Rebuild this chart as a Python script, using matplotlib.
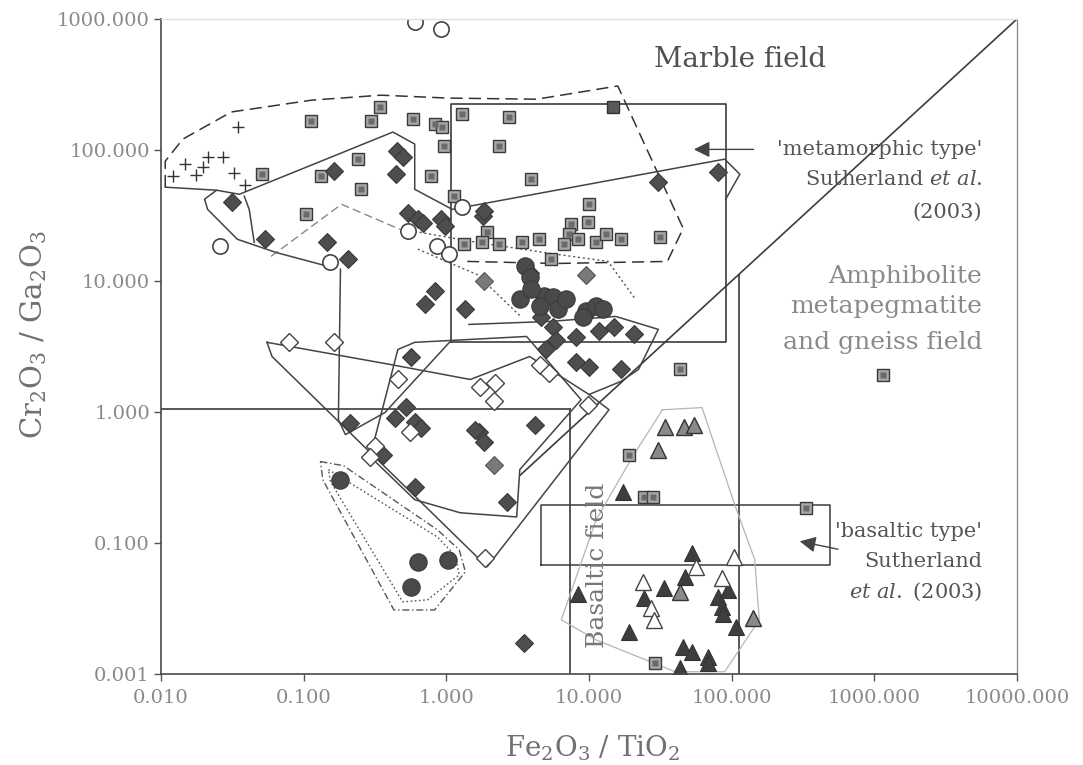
import matplotlib
matplotlib.use('Agg')
import matplotlib.pyplot as plt
from matplotlib.ticker import NullLocator

plt.rcParams['font.family'] = ['DejaVu Serif']
plt.rcParams['mathtext.fontset'] = 'dejavuserif'

# ---- data: x = Fe2O3/TiO2, y = Cr2O3/Ga2O3 ----
cross_x = [0.0348, 0.0212, 0.027, 0.0147, 0.0196, 0.0175, 0.0121, 0.0327, 0.0389]
cross_y = [149, 88, 88, 77.8, 73.8, 64.1, 63, 66.5, 53.8]

open_circ_x = [0.60, 0.92, 0.0257, 0.154, 0.536, 0.866, 1.05, 1.29]
open_circ_y = [950, 840, 18.4, 13.9, 23.9, 18.4, 16.0, 36.6]

fill_circ_x = [3.54, 3.83, 3.27, 4.80, 5.62, 4.50, 6.10, 9.53, 11.2, 9.08, 12.5, 3.95, 6.92,
               0.181, 0.63, 1.02, 0.562]
fill_circ_y = [12.9, 10.8, 7.23, 7.62, 7.50, 6.40, 6.07, 5.86, 6.40, 5.27, 6.07, 8.63, 7.23,
               0.304, 0.0718, 0.0745, 0.0462]

dia_x = [0.0316, 0.0536, 0.162, 0.145, 0.205, 0.45, 0.494, 0.443, 0.536, 0.63, 0.681, 0.91,
         0.984, 1.81, 1.83, 0.703, 0.839, 1.36, 3.83, 5.62, 8.13, 14.9, 20.5, 16.7, 5.02,
         8.13, 10.0, 5.90, 30.6, 80, 0.212, 0.519, 0.436, 0.60, 0.659, 1.69, 1.83, 0.360,
         0.60, 2.65, 4.15, 3.48, 0.562, 1.59, 4.64, 11.7]
dia_y = [39.9, 20.8, 68.9, 19.7, 14.6, 98, 88.1, 65.3, 32.9, 29.6, 27.5, 29.6,
         26.1, 31.2, 34.0, 6.62, 8.32, 6.07, 11.6, 4.42, 3.71, 4.42, 3.91, 2.11, 3.00,
         2.39, 2.22, 3.57, 56.8, 67.6, 0.830, 1.10, 0.906, 0.845, 0.760, 0.708, 0.594, 0.472,
         0.269, 0.207, 0.802, 0.0173, 2.61, 0.733, 5.27, 4.12]

dia_light_x = [1.83, 9.53, 2.15]
dia_light_y = [9.94, 11.2, 0.396]

odia_x = [0.0787, 0.162, 0.457, 0.316, 0.292, 0.553, 1.72, 2.19, 2.15, 4.50, 5.27, 9.84, 1.87]
odia_y = [3.45, 3.40, 1.77, 0.545, 0.456, 0.708, 1.54, 1.65, 1.22, 2.30, 2.00, 1.14, 0.077]

sq_x = [0.112, 0.343, 0.296, 0.581, 0.826, 0.938, 0.968, 0.051, 0.133, 0.241, 0.253, 0.103,
        0.774, 1.29, 2.74, 2.33, 3.95, 1.14, 10.0, 9.84, 7.50, 7.26, 8.40, 6.70, 11.2, 13.1,
        16.7, 31.6, 1.93, 1.78, 1.33, 2.33, 3.37, 4.43, 5.44, 43.5, 1155, 19.0, 24.1, 28.3,
        332, 29.2]
sq_y = [166, 212, 166, 172, 157, 149, 107, 65.3, 63.1, 85.1, 50.1, 32.3,
        63.1, 188, 178, 107, 59.8, 44.4, 38.5, 28.1, 27.1, 22.7, 20.8, 19.1, 19.7, 22.7,
        20.8, 21.5, 23.5, 19.7, 19.1, 19.1, 19.7, 20.8, 14.6, 2.11, 1.9, 0.472, 0.225, 0.225,
        0.186, 0.0121]
sq_dark_x = [14.7]
sq_dark_y = [212]

tri_x = [52.7, 47.2, 33.7, 24.1, 8.40, 19.0, 80, 85.3, 86.6, 93.8, 107, 45.7, 52.7, 68.1,
         68.1, 43.5, 17.2]
tri_y = [0.0841, 0.0552, 0.0454, 0.0381, 0.0409, 0.0209, 0.0388, 0.0325, 0.0288, 0.0438,
         0.0229, 0.0161, 0.0147, 0.0135, 0.0121, 0.0111, 0.246]
gtri_x = [34.3, 46.4, 54.5, 30.6, 43.5, 140]
gtri_y = [0.773, 0.773, 0.802, 0.516, 0.0424, 0.0268]
otri_x = [103, 56.2, 85.3, 23.7, 27.4, 28.7]
otri_y = [0.0783, 0.0658, 0.0542, 0.0505, 0.032, 0.0259]

# field outlines (vertices)
dash_long_x = [0.0107, 0.0107, 0.0142, 0.0311, 0.1137, 0.348, 1.02, 4.29, 15.9, 45.7, 35.4, 5.90, 1.40]
dash_long_y = [52.0, 82.0, 121, 195, 240, 262, 249, 244, 308, 25.2, 14.1, 13.6, 14.1]
dash_gray_x = [0.059, 0.184, 0.472]
dash_gray_y = [15.4, 38.5, 24.8]
dot_a_x = [0.60, 1.64, 5.90, 13.6, 21.2]
dot_a_y = [23.9, 19.7, 16.0, 14.1, 7.23]
dot_b_x = [0.63, 1.64, 3.37]
dot_b_y = [17.5, 11.2, 5.27]

polyA_x = [0.0107, 0.0245, 0.0354, 0.422, 0.60, 0.60, 1.10, 89.3, 114, 90.8]
polyA_y = [52.0, 49.3, 45.9, 137, 111, 50.1, 35.2, 85.1, 65.3, 42.1]
polyB_x = [0.0245, 0.0202, 0.0212, 0.0343, 0.064, 0.149]
polyB_y = [49.3, 42.1, 35.2, 20.8, 16.5, 12.9]
polyB2_x = [0.0383, 0.0415, 0.045]
polyB2_y = [44.4, 35.2, 19.7]
polyC_x = [0.181, 0.175, 0.196, 0.371, 1.05]
polyC_y = [12.3, 0.874, 0.672, 0.99, 3.40]
polyD_x = [0.292, 0.457, 0.60, 3.65, 8.80, 3.27, 3.11, 1.25, 0.60, 0.292]
polyD_y = [0.456, 3.00, 3.40, 3.77, 1.24, 0.363, 0.158, 0.170, 0.214, 0.456]
polyE_x = [0.0553, 0.408, 1.47, 3.83, 10.0, 13.8, 1.93, 0.060, 0.0553]
polyE_y = [3.40, 2.30, 1.77, 2.65, 1.36, 1.04, 0.0658, 2.65, 3.40]
polyF_x = [1.44, 5.27, 15.4, 30.6, 22.2, 16.7, 10.0]
polyF_y = [4.66, 4.91, 5.36, 4.27, 2.11, 1.71, 1.36]

outer_x = [0.131, 0.19, 0.866, 1.23, 1.36, 0.826, 0.429, 0.136, 0.131]
outer_y = [0.418, 0.389, 0.126, 0.0887, 0.0603, 0.0308, 0.0308, 0.304, 0.418]
inner_x = [0.149, 0.866, 1.155, 1.23, 0.737, 0.494, 0.154, 0.149]
inner_y = [0.363, 0.111, 0.0798, 0.0571, 0.0368, 0.0355, 0.294, 0.363]

basalt_x = [32.7, 61.9, 105, 145, 156, 89.3, 40.2, 11.2, 6.39, 11.2, 20.2, 32.7]
basalt_y = [1.04, 1.08, 0.196, 0.0745, 0.0259, 0.0104, 0.0104, 0.0182, 0.0259, 0.150, 0.456, 1.04]

# boxes and boundaries
meta_box = (1.07, 90.8, 3.45, 224)      # x0, x1, y0, y1
basalt_box = (4.57, 487, 0.068, 0.196)
diag_x = [3.3, 10000]
diag_y = [0.33, 1000]

xticks = [0.01, 0.1, 1, 10, 100, 1000, 10000]
xtick_labels = ['0.010', '0.100', '1.000', '10.000', '100.000', '1000.000', '10000.000']
yticks = [0.01, 0.1, 1, 10, 100, 1000]
ytick_labels = ['0.001', '0.100', '1.000', '10.000', '100.000', '1000.000']

fig = plt.figure(figsize=(10.83, 7.65), dpi=100)
ax = fig.add_axes([0.1487, 0.1190, 0.7904, 0.8562])
ax.set_xscale('log')
ax.set_yscale('log')
ax.set_xlim(0.01, 10000)
ax.set_ylim(0.01, 1000)

lc = '#3c3c3c'
# structural lines
x0, x1, y0, y1 = meta_box
ax.plot([x0, x1, x1, x0, x0], [y0, y0, y1, y1, y0], color=lc, lw=1.2)
x0, x1, y0, y1 = basalt_box
ax.plot([x0, x1, x1, x0, x0], [y0, y0, y1, y1, y0], color=lc, lw=1.1)
ax.plot(diag_x, diag_y, color=lc, lw=1.2)
ax.plot([0.01, 7.4], [1.05, 1.05], color=lc, lw=1.2)
ax.plot([7.4, 7.4], [0.01, 1.05], color=lc, lw=1.2)
ax.plot([112, 112], [0.01, 11.2], color=lc, lw=1.2)

# field outlines
ax.plot(dash_long_x, dash_long_y, color='#333333', lw=1.1, ls=(0, (8, 4)))
ax.plot(dash_gray_x, dash_gray_y, color='#888888', lw=1.0, ls=(0, (6, 3)))
ax.plot(dot_a_x, dot_a_y, color='#555555', lw=1.0, ls=(0, (1.5, 2)))
ax.plot(dot_b_x, dot_b_y, color='#555555', lw=1.0, ls=(0, (1.5, 2)))
for px, py in [(polyA_x, polyA_y), (polyB_x, polyB_y), (polyB2_x, polyB2_y),
               (polyC_x, polyC_y), (polyD_x, polyD_y), (polyE_x, polyE_y),
               (polyF_x, polyF_y)]:
    ax.plot(px, py, color='#444444', lw=1.1)
ax.plot(outer_x, outer_y, color='#555555', lw=1.0, ls=(0, (5, 2, 1, 2)))
ax.plot(inner_x, inner_y, color='#555555', lw=1.0, ls=(0, (1.2, 1.8)))
ax.plot(basalt_x, basalt_y, color='#b5b5b5', lw=0.9)

# markers
ax.plot(cross_x, cross_y, '+', color='#333333', ms=9, mew=1.0)
ax.plot(sq_x, sq_y, 's', ms=8.5, mfc='#a8a8a8', mec='#3a3a3a', mew=1.0)
ax.plot(sq_x, sq_y, 's', ms=4, mfc='#6a6a6a', mec='none')
ax.plot(sq_dark_x, sq_dark_y, 's', ms=9, mfc='#5a5a5a', mec='#333333')
ax.plot(dia_x, dia_y, 'D', ms=9.5, mfc='#4e4e4e', mec='#3a3a3a', mew=0.8)
ax.plot(dia_light_x, dia_light_y, 'D', ms=9, mfc='#7a7a7a', mec='#555555', mew=0.8)
ax.plot(odia_x, odia_y, 'D', ms=9, mfc='white', mec='#444444', mew=1.0)
ax.plot(fill_circ_x, fill_circ_y, 'o', ms=12.5, mfc='#4a4a4a', mec='#3a3a3a', mew=0.8)
ax.plot(open_circ_x, open_circ_y, 'o', ms=11, mfc='white', mec='#444444', mew=1.2)
ax.plot(tri_x, tri_y, '^', ms=11, mfc='#3e3e3e', mec='#333333', mew=0.8)
ax.plot(gtri_x, gtri_y, '^', ms=11, mfc='#8a8a8a', mec='#333333', mew=1.0)
ax.plot(otri_x, otri_y, '^', ms=11, mfc='white', mec='#444444', mew=1.0)

# arrows
ax.annotate('', xy=(51.9, 101), xytext=(149, 101),
            arrowprops=dict(arrowstyle='-|>', mutation_scale=24, color='#444444', lw=1.0))
ax.annotate('', xy=(287, 0.104), xytext=(581, 0.0887),
            arrowprops=dict(arrowstyle='-|>', mutation_scale=24, color='#444444', lw=1.0))

# field labels
ax.text(114, 494, 'Marble field', ha='center', va='center', fontsize=20, color='#505050')
ax.text(5710, 101, "'metamorphic type'", ha='right', va='center', fontsize=15, color='#555555')
ax.text(5710, 59.8, r'Sutherland $\it{et\ al.}$', ha='right', va='center', fontsize=15, color='#555555')
ax.text(5710, 33.4, '(2003)', ha='right', va='center', fontsize=15, color='#555555')
ax.text(5710, 10.8, 'Amphibolite', ha='right', va='center', fontsize=18, color='#8a8a8a')
ax.text(5710, 6.40, 'metapegmatite', ha='right', va='center', fontsize=18, color='#8a8a8a')
ax.text(5710, 3.40, 'and gneiss field', ha='right', va='center', fontsize=18, color='#8a8a8a')
ax.text(5710, 0.122, "'basaltic type'", ha='right', va='center', fontsize=15, color='#555555')
ax.text(5710, 0.0718, 'Sutherland', ha='right', va='center', fontsize=15, color='#555555')
ax.text(5710, 0.0424, r'$\it{et\ al.}$ (2003)', ha='right', va='center', fontsize=15, color='#555555')
ax.text(11.55, 0.068, 'Basaltic field', rotation=90, ha='center', va='center',
        fontsize=18, color='#777777')

# axes styling
ax.set_xticks(xticks)
ax.set_xticklabels(xtick_labels)
ax.set_yticks(yticks)
ax.set_yticklabels(ytick_labels)
ax.xaxis.set_minor_locator(NullLocator())
ax.yaxis.set_minor_locator(NullLocator())
ax.tick_params(direction='out', length=5, width=1.0, color='#555555',
               labelcolor='#8a8a8a', labelsize=14)
ax.tick_params(axis='x', pad=6)
ax.tick_params(axis='y', pad=3)
for side in ['left', 'bottom']:
    ax.spines[side].set_color('#4a4a4a')
    ax.spines[side].set_linewidth(1.2)
ax.spines['right'].set_color('#888888')
ax.spines['right'].set_linewidth(0.9)
ax.spines['top'].set_color('#dddddd')
ax.spines['top'].set_linewidth(0.9)

fig.text(593 / 1083, 1 - 748 / 765, r'Fe$_2$O$_3$ / TiO$_2$', ha='center', va='center',
         fontsize=20, color='#707070')
fig.text(34 / 1083, 1 - 335 / 765, r'Cr$_2$O$_3$ / Ga$_2$O$_3$', ha='center', va='center',
         rotation=90, fontsize=21, color='#707070')

fig.savefig('out.png', dpi=100)
